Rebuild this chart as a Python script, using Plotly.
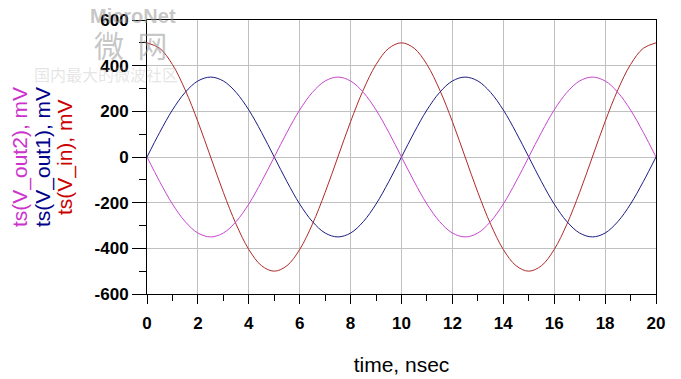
import plotly.graph_objects as go

# time axis (nsec), sampled every 0.5 ns
time_ns = [i * 0.5 for i in range(41)]

# ts(V_in), mV
v_in = [500, 476, 405, 294, 155, 0, -155, -294, -405, -476,
        -500, -476, -405, -294, -155, 0, 155, 294, 405, 476,
        500, 476, 405, 294, 155, 0, -155, -294, -405, -476,
        -500, -476, -405, -294, -155, 0, 155, 294, 405, 476, 500]

# ts(V_out1), mV
v_out1 = [0, 108, 206, 283, 333, 350, 333, 283, 206, 108,
          0, -108, -206, -283, -333, -350, -333, -283, -206, -108,
          0, 108, 206, 283, 333, 350, 333, 283, 206, 108,
          0, -108, -206, -283, -333, -350, -333, -283, -206, -108, 0]

# ts(V_out2), mV
v_out2 = [0, -108, -206, -283, -333, -350, -333, -283, -206, -108,
          0, 108, 206, 283, 333, 350, 333, 283, 206, 108,
          0, -108, -206, -283, -333, -350, -333, -283, -206, -108,
          0, 108, 206, 283, 333, 350, 333, 283, 206, 108, 0]

x_ticks = list(range(0, 21, 2))
y_ticks = list(range(-600, 601, 200))

FONT = "Liberation Sans, Arial, sans-serif"
W, H = 681, 379
ML, MR, MT, MB = 147, 25, 20, 85
PW, PH = W - ML - MR, H - MT - MB


def px(xp):
    return (xp - ML) / PW


def py(yp):
    return 1 - (yp - MT) / PH


fig = go.Figure()
fig.add_trace(go.Scatter(x=time_ns, y=v_in, mode="lines", line=dict(color="#b02a2a", width=1, shape="spline"), name="ts(V_in)"))
fig.add_trace(go.Scatter(x=time_ns, y=v_out1, mode="lines", line=dict(color="#1c1c84", width=1, shape="spline"), name="ts(V_out1)"))
fig.add_trace(go.Scatter(x=time_ns, y=v_out2, mode="lines", line=dict(color="#c845d0", width=1, shape="spline"), name="ts(V_out2)"))

fig.update_layout(
    width=W, height=H,
    margin=dict(l=ML, r=MR, t=MT, b=MB),
    paper_bgcolor="white", plot_bgcolor="white",
    showlegend=False,
    font=dict(family=FONT, color="black"),
)
fig.update_xaxes(
    range=[0, 20], tickvals=x_ticks, ticktext=[str(v) for v in x_ticks],
    automargin=False,
    showgrid=True, gridcolor="#c0c0c0", gridwidth=1, zeroline=False,
    showline=True, linecolor="black", linewidth=1, mirror=True,
    ticks="outside", ticklen=9, tickcolor="black", ticklabelstandoff=5,
    minor=dict(dtick=1, ticks="outside", ticklen=6, tickcolor="black", showgrid=False),
    tickfont=dict(size=17, family=FONT, weight="bold"),
    title=dict(text="time, nsec", font=dict(size=21, family=FONT), standoff=24),
)
fig.update_yaxes(
    range=[-600, 600], tickvals=y_ticks, ticktext=[str(v) for v in y_ticks],
    automargin=False,
    showgrid=True, gridcolor="#c0c0c0", gridwidth=1, zeroline=False,
    showline=True, linecolor="black", linewidth=1, mirror=True,
    ticks="outside", ticklen=14, tickcolor="black",
    minor=dict(dtick=100, ticks="outside", ticklen=7, tickcolor="black", showgrid=False),
    tickfont=dict(size=17, family=FONT, weight="bold"),
)

# watermark (behind)
fig.add_annotation(text="MicroNet", x=px(88), y=py(16), xref="paper", yref="paper", showarrow=False,
                   font=dict(size=20, family=FONT, color="rgba(150,150,150,0.55)", weight="bold"),
                   xanchor="left", yanchor="middle")
fig.add_annotation(text="微  网", x=px(92), y=py(44), xref="paper", yref="paper", showarrow=False,
                   font=dict(size=30, family="Noto Sans CJK SC", color="rgba(150,150,150,0.55)"),
                   xanchor="left", yanchor="middle")
fig.add_annotation(text="国内最大的微波社区", x=px(32), y=py(74), xref="paper", yref="paper", showarrow=False,
                   font=dict(size=16, family="Noto Sans CJK SC", color="rgba(180,180,180,0.35)"),
                   xanchor="left", yanchor="middle")

# y-axis titles (three stacked, rotated)
for txt, col, xp in [("ts(V_out2), mV", "#cc33cc", 20),
                     ("ts(V_out1), mV", "#00008b", 43),
                     ("ts(V_in), mV", "#cc0000", 65)]:
    fig.add_annotation(text=txt, x=px(xp), y=py(157), xref="paper", yref="paper",
                       xanchor="center", yanchor="middle", textangle=-90,
                       showarrow=False, font=dict(size=21, family=FONT, color=col))

fig.write_html("out.html")
